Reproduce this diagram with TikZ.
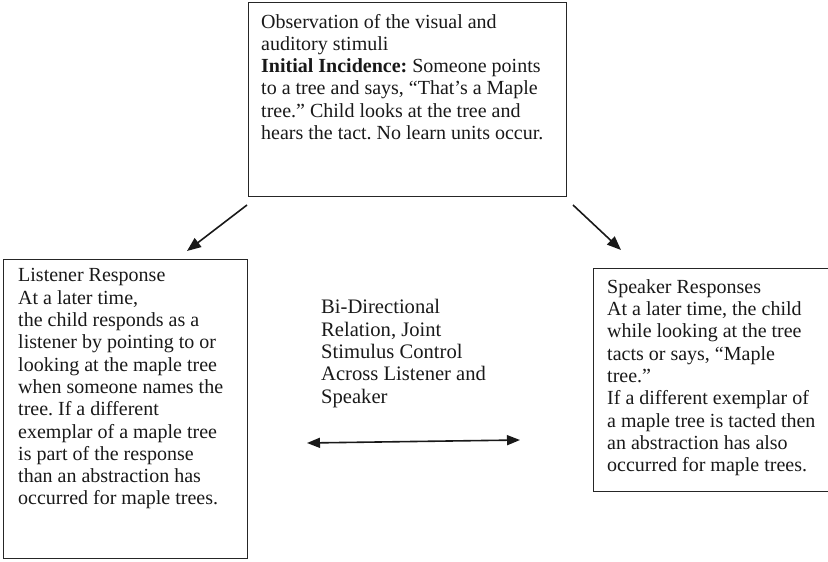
\documentclass[tikz,border=0pt]{standalone}
\usepackage{fontspec}
\setmainfont{Liberation Serif}
\usetikzlibrary{arrows.meta}
\begin{document}
\frenchspacing
\begin{tikzpicture}[x=1pt,y=1pt,
  frame/.style={draw=black!85,line width=1.4pt,inner sep=0pt,anchor=north west},
  txt/.style={anchor=north west,inner sep=0pt,align=left,text=black!90,
    font=\fontsize{20}{22.3}\selectfont\frenchspacing},
  link/.style={draw=black!90,line width=1.6pt,-{Triangle[length=14pt,width=11pt]}},
  twoway/.style={draw=black!90,line width=1.6pt,
    {Triangle[length=13pt,width=10pt]}-{Triangle[length=13pt,width=10pt]}}]
  \useasboundingbox (0,-562) rectangle (828,0);
  \clip (0,-562) rectangle (828,0);

  % boxes
  \node[frame,minimum width=318pt,minimum height=194pt] (topbox) at (248,-2) {};
  \node[frame,minimum width=244pt,minimum height=299pt] (lbox) at (3,-259) {};
  \node[frame,minimum width=250pt,minimum height=223pt] (rbox) at (593,-268) {};

  % texts
  \node[txt] (toptext) at (261,-13.8) {Observation of the visual and\\
    auditory stimuli\\
    \textbf{Initial Incidence:} Someone points\\
    to a tree and says, “That’s a Maple\\
    tree.” Child looks at the tree and\\
    hears the tact. No learn units occur.};
  \node[txt] (ltext) at (18,-268.5) {Listener Response\\
    At a later time,\\
    the child responds as a\\
    listener by pointing to or\\
    looking at the maple tree\\
    when someone names the\\
    tree. If a different\\
    exemplar of a maple tree\\
    is part of the response\\
    than an abstraction has\\
    occurred for maple trees.};
  \node[txt] (rtext) at (607,-279.3) {Speaker Responses\\
    At a later time, the child\\
    while looking at the tree\\
    tacts or says, “Maple\\
    tree.”\\
    If a different exemplar of\\
    a maple tree is tacted then\\
    an abstraction has also\\
    occurred for maple trees.};
  \node[txt,font=\fontsize{20.6}{22.4}\selectfont] (mtext) at (321,-299.3) {Bi-Directional\\
    Relation, Joint\\
    Stimulus Control\\
    Across Listener and\\
    Speaker};

  % connectors
  \coordinate (lstart) at (247,-205);
  \coordinate (lend) at (187,-251);
  \coordinate (rstart) at (573,-205);
  \coordinate (rend) at (621,-250);
  \coordinate (bl) at (307,-443);
  \coordinate (br) at (520,-440);
  \draw[link] (lstart) -- (lend);
  \draw[link] (rstart) -- (rend);
  \draw[twoway] (bl) -- (br);
\end{tikzpicture}
\end{document}
